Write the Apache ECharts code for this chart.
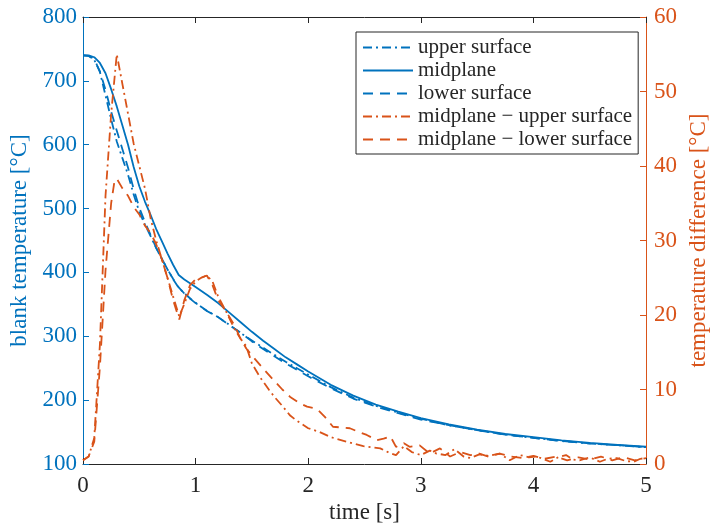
<!DOCTYPE html>
<html><head><meta charset="utf-8">
<script src="https://cdn.jsdelivr.net/npm/echarts@6/dist/echarts.min.js"></script>
<style>html,body{margin:0;padding:0;background:#fff}#c{width:711px;height:524px}</style>
</head><body><div id="c"></div>
<script>
// ---- data ----
const tBlue = [0,0.05,0.1,0.15,0.2,0.25,0.3,0.35,0.4,0.45,0.5,0.55,0.6,0.65,0.7,0.75,0.8,0.85,0.9,0.95,1.0,1.1,1.2,1.3,1.4,1.5,1.6,1.7,1.8,1.9,2.0,2.2,2.4,2.6,2.8,3.0,3.25,3.5,3.75,4.0,4.25,4.5,4.75,5.0];
const midplane = [740,740,737,728,712,687,660,630,600,565,535,511,490,468,449,430,412,396,389,383,377,365,352,337,322,307,293,280,267,256,245,224,207,193,182,172,162,154,147,142,137,133,130,127];
const upperSurface = [740,739,733,714,677,640,605,579,553,522,495,475,457,438,421.5,405,389.5,376,367.5,359.5,352.5,340,330,318,305,293.5,282,271,260,250,240,220.4,204,191,180.5,171,160.5,153,146,141,136,132,129.4,126.3];
const lowerSurface = [740,739,734,715,686,652,622,593,564,530.5,501.5,479,459,438.5,421.5,405,390,376.6,367,359,352,339.7,330,317.5,305.5,292,280,268.7,257.4,247.7,237.3,218.7,202.5,190,179.5,169.5,161,153,146,141,136,132.4,129.4,126.3];

const tDiffUpper = [0,0.05,0.1,0.15,0.2,0.25,0.3,0.35,0.4,0.45,0.5,0.55,0.6,0.65,0.7,0.75,0.8,0.855,0.9,0.95,1.0,1.05,1.1,1.15,1.2,1.27,1.35,1.4,1.45,1.5,1.57,1.65,1.7,1.77,1.84,1.9,2.0,2.1,2.2,2.34,2.49,2.64,2.72,2.78,2.85,2.92,3.0,3.08,3.14,3.22,3.3,3.38,3.44,3.52,3.6,3.7,3.79,3.88,3.96,4.03,4.1,4.15,4.22,4.29,4.35,4.41,4.5,4.59,4.66,4.74,4.82,4.89,4.95,5.0];
const diffUpper = [0.5,1,3.5,16,36,47,55,51,47,43,40,37,33,30,27.5,25,22.5,19.8,21.5,23.5,24.5,25,25.3,24.5,22.5,20.5,18,16.8,15.8,13.5,11.7,10,9,7.8,6.5,5.8,4.8,4.3,3.6,3.0,2.4,2.1,1.5,1.2,2.4,1.6,1.2,1.8,1.4,1.2,2.0,1.0,0.8,1.3,1.1,1.4,0.5,1.2,0.9,1.0,0.6,0.3,0.9,1.2,0.6,0.5,0.9,0.3,0.7,0.8,0.4,0.3,0.7,0.8];

const tDiffLower = [0,0.05,0.1,0.15,0.2,0.25,0.28,0.3,0.35,0.4,0.45,0.5,0.55,0.6,0.65,0.7,0.75,0.8,0.855,0.9,0.95,1.0,1.05,1.1,1.15,1.2,1.27,1.35,1.39,1.45,1.51,1.6,1.69,1.77,1.84,1.92,1.99,2.05,2.09,2.15,2.22,2.3,2.37,2.45,2.52,2.61,2.67,2.73,2.78,2.85,2.9,2.99,3.08,3.17,3.26,3.35,3.44,3.52,3.6,3.7,3.8,3.9,4.0,4.1,4.2,4.3,4.4,4.5,4.6,4.7,4.8,4.9,5.0];
const diffLower = [0.5,1,3,13,26,35,38,38.3,37,36,34.5,33.5,32,31,29.5,27.5,25,22,19.4,22,24,24.8,25,25.3,24,22,20.5,18.5,17.1,15.5,14.4,12.8,11.3,10,9.0,8.2,7.7,7.5,7.2,6.3,5.0,4.9,4.8,4.3,3.9,3.2,3.4,3.7,2.3,2.8,2.3,2.5,1.4,2.1,1.0,1.6,1.2,1.4,1.0,1.4,1.0,0.8,1.1,0.7,1.0,0.5,0.9,0.6,1.0,0.5,0.9,0.5,0.8];

const xTicks = [0,1,2,3,4,5];
const leftTicks = [100,200,300,400,500,600,700,800];
const rightTicks = [0,10,20,30,40,50,60];

const names = ['upper surface','midplane','lower surface','midplane \u2212 upper surface','midplane \u2212 lower surface'];

// ---- chart ----
const BLUE = '#0072BD', ORANGE = '#D95319', DARK = '#262626';
const FONT = 'Liberation Serif';
const pairs = (xs, ys) => xs.map((x, i) => [x, ys[i]]);
const DASHDOT = [9, 4, 2, 4];
const DASH = [10, 7];

const chart = echarts.init(document.getElementById('c'), null, {renderer: 'canvas'});
const mk = (name, xs, ys, color, type, yIdx) => ({
  name, type: 'line', yAxisIndex: yIdx, xAxisIndex: 0, showSymbol: false, symbol: 'none',
  data: pairs(xs, ys), animation: false,
  lineStyle: {color, width: 1.8, type},
  itemStyle: {color}
});

chart.setOption({
  animation: false,
  textStyle: {fontFamily: FONT},
  grid: {left: 83, right: 65, top: 17, bottom: 60, containLabel: false, outerBoundsMode: 'none'},
  legend: {
    orient: 'vertical', left: 356, top: 32,
    data: names,
    itemWidth: 50, itemHeight: 14, itemGap: 2,
    padding: [5, 6, 4, 6],
    backgroundColor: '#fff', borderColor: DARK, borderWidth: 1,
    textStyle: {fontFamily: FONT, fontSize: 21, color: DARK, lineHeight: 20},
    itemStyle: {opacity: 0}
  },
  xAxis: [{
    type: 'value', min: 0, max: 5, interval: 1, position: 'bottom',
    name: 'time [s]', nameLocation: 'middle', nameGap: 34,
    nameTextStyle: {fontFamily: FONT, fontSize: 23, color: DARK},
    axisLine: {show: true, onZero: false, lineStyle: {color: DARK, width: 1}},
    axisTick: {show: true, inside: true, length: 6, lineStyle: {color: DARK}},
    axisLabel: {fontFamily: FONT, fontSize: 23, color: DARK, margin: 10,
      formatter: v => xTicks.includes(v) ? String(v) : ''},
    splitLine: {show: false}
  }, {
    type: 'value', min: 0, max: 5, interval: 1, position: 'top',
    axisLine: {show: true, onZero: false, lineStyle: {color: DARK, width: 1}},
    axisTick: {show: true, inside: true, length: 6, lineStyle: {color: DARK}},
    axisLabel: {show: false}, splitLine: {show: false}
  }],
  yAxis: [{
    type: 'value', min: 100, max: 800, interval: 100, position: 'left',
    name: 'blank temperature [°C]', nameLocation: 'middle', nameGap: 52,
    nameTextStyle: {fontFamily: FONT, fontSize: 23, color: BLUE},
    axisLine: {show: true, onZero: false, lineStyle: {color: BLUE, width: 1}},
    axisTick: {show: true, inside: true, length: 6, lineStyle: {color: BLUE}},
    axisLabel: {fontFamily: FONT, fontSize: 23, color: BLUE, margin: 6,
      formatter: v => leftTicks.includes(v) ? String(v) : ''},
    splitLine: {show: false}
  }, {
    type: 'value', min: 0, max: 60, interval: 10, position: 'right',
    name: 'temperature difference [°C]', nameLocation: 'middle', nameGap: 38, nameRotate: 90,
    nameTextStyle: {fontFamily: FONT, fontSize: 23, color: ORANGE},
    axisLine: {show: true, onZero: false, lineStyle: {color: ORANGE, width: 1}},
    axisTick: {show: true, inside: true, length: 6, lineStyle: {color: ORANGE}},
    axisLabel: {fontFamily: FONT, fontSize: 23, color: ORANGE, margin: 8,
      formatter: v => rightTicks.includes(v) ? String(v) : ''},
    splitLine: {show: false}
  }],
  series: [
    mk(names[0], tBlue, upperSurface, BLUE, DASHDOT, 0),
    mk(names[1], tBlue, midplane, BLUE, 'solid', 0),
    mk(names[2], tBlue, lowerSurface, BLUE, DASH, 0),
    mk(names[3], tDiffUpper, diffUpper, ORANGE, DASHDOT, 1),
    mk(names[4], tDiffLower, diffLower, ORANGE, DASH, 1)
  ]
});
</script></body></html>
